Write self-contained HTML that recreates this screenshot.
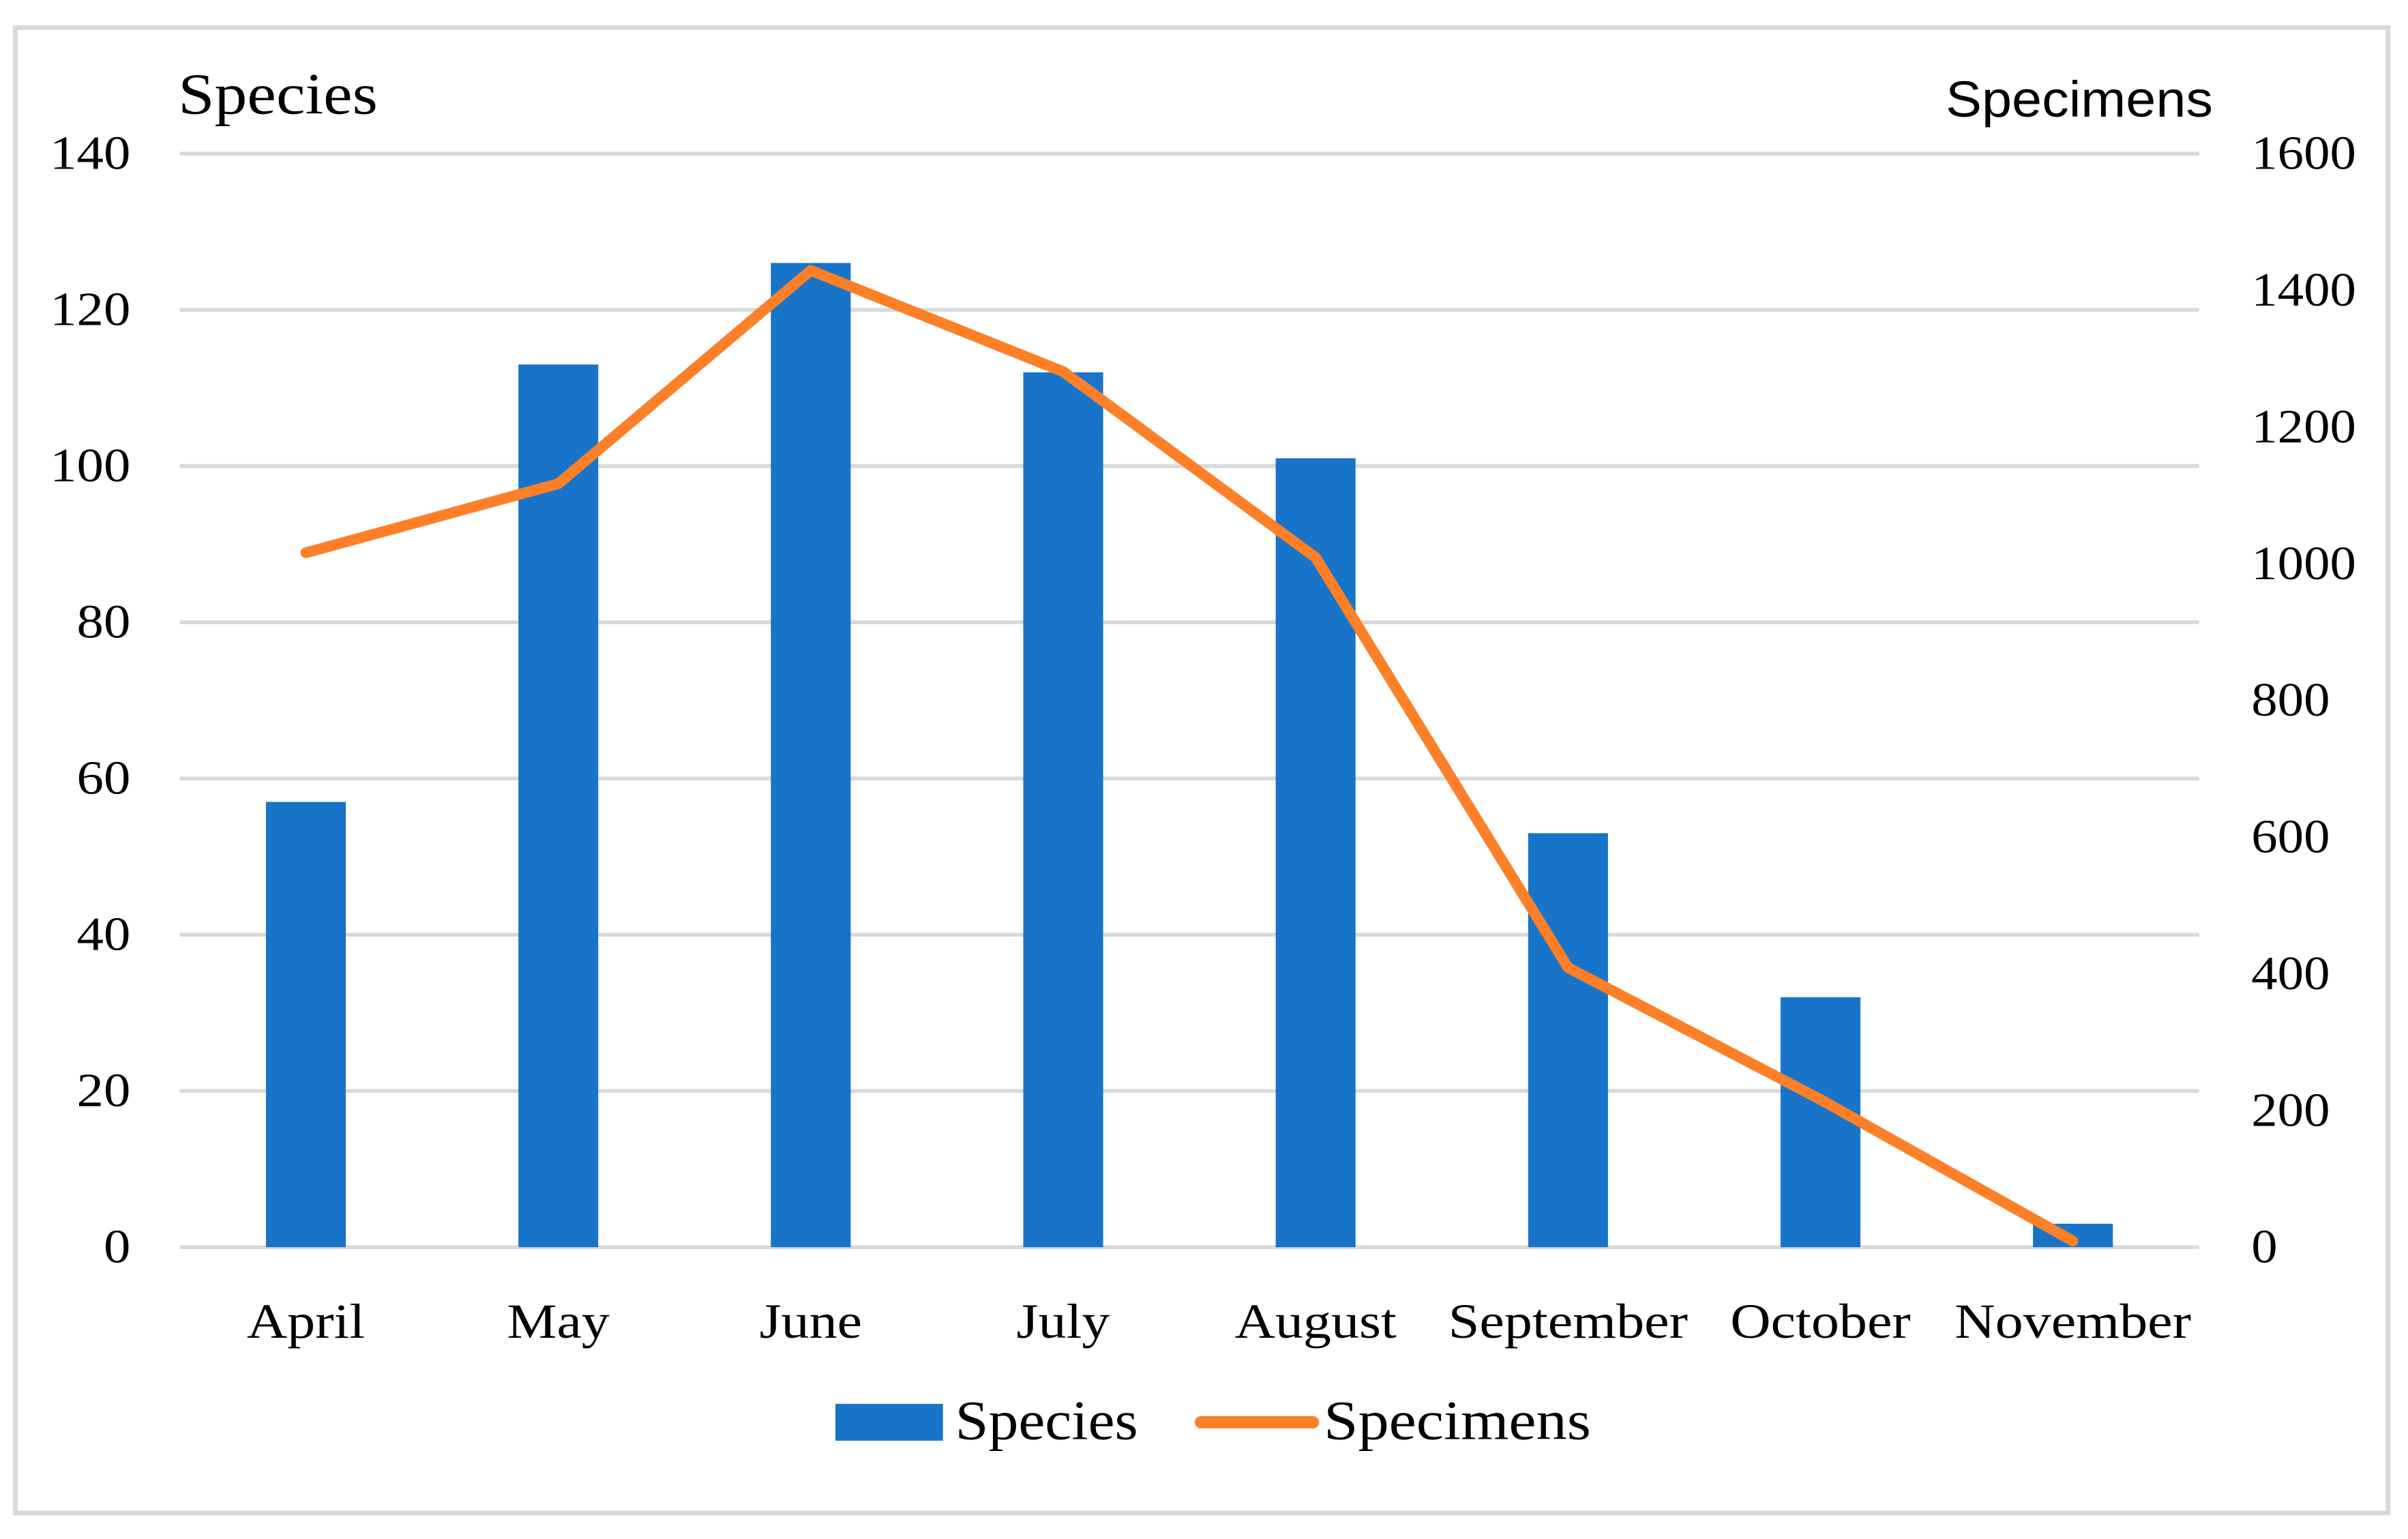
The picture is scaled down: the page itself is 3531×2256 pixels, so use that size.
<!DOCTYPE html>
<html><head><meta charset="utf-8"><style>
html,body{margin:0;padding:0;background:#fff;}
svg{display:block;}
.serif{font-family:"Liberation Serif",serif;fill:#000;}
.sans{font-family:"Liberation Sans",sans-serif;fill:#000;}
</style></head><body>
<svg id="chart" width="3531" height="2256" viewBox="0 0 1568 1002" preserveAspectRatio="none" xmlns="http://www.w3.org/2000/svg">
<rect x="10" y="18" width="1545" height="967" fill="#fff" stroke="#d9d9d9" stroke-width="3"/>
<g id="grid"></g>
<g id="bars"></g>
<g id="line"></g>
<g id="axes"></g>
<text class="serif stretch" x="116" y="74" font-size="38" textLength="130" lengthAdjust="spacingAndGlyphs">Species</text>
<text class="sans" x="1441" y="76" font-size="33" text-anchor="end" textLength="174" lengthAdjust="spacingAndGlyphs">Specimens</text>
<g>
<rect x="544" y="914" width="70" height="24" fill="#1874c9"/>
<text class="serif" x="622" y="937" font-size="36" textLength="119" lengthAdjust="spacingAndGlyphs">Species</text>
<line x1="782" y1="926" x2="855" y2="926" stroke="#fd7f28" stroke-width="8" stroke-linecap="round"/>
<text class="serif" x="862" y="937" font-size="36" textLength="174" lengthAdjust="spacingAndGlyphs">Specimens</text>
</g>
</svg>
<script>
const categories = ["April","May","June","July","August","September","October","November"];
const species = [57,113,126,112,101,53,32,3];
const specimens = [1016,1117,1429,1281,1009,409,216,9];
const leftTicks = [0,20,40,60,80,100,120,140];
const rightTicks = [0,200,400,600,800,1000,1200,1400,1600];

const NS = "http://www.w3.org/2000/svg";
const plotL = 117, plotR = 1432, plotT = 100, plotB = 812;
const slot = (plotR - plotL) / categories.length;
const xC = i => plotL + slot * (i + 0.5);
const yL = v => plotB - (v / 140) * (plotB - plotT);
const yR = v => plotB - (v / 1600) * (plotB - plotT);
function mk(tag, attrs, parent){
  const e = document.createElementNS(NS, tag);
  for (const k in attrs) e.setAttribute(k, attrs[k]);
  parent.appendChild(e); return e;
}
function stretch(el, f){
  const w = el.getComputedTextLength();
  if (w > 0) { el.setAttribute('textLength', w * f); el.setAttribute('lengthAdjust', 'spacingAndGlyphs'); }
}
const grid = document.getElementById('grid'), bars = document.getElementById('bars'),
      line = document.getElementById('line'), axes = document.getElementById('axes');
leftTicks.forEach(t => {
  const g = mk('line', {x1: plotL, x2: plotR, y1: yL(t), y2: yL(t), stroke: '#d9d9d9', 'stroke-width': 2.5}, grid);
  
  
  const tx = mk('text', {x: 85, y: yL(t) + 10, 'font-size': 31, 'text-anchor': 'end', class: 'serif'}, axes);
  tx.textContent = t;
  
  
  stretch(tx, 1.13);
});
rightTicks.forEach(t => {
  const tx = mk('text', {x: 1466, y: yR(t) + 10, 'font-size': 31, class: 'serif'}, axes);
  tx.textContent = t;
  
  
  stretch(tx, 1.1);
});
const bw = 52;
species.forEach((v, i) => {
  const r = mk('rect', {x: xC(i) - bw / 2, y: yL(v), width: bw, height: plotB - yL(v), fill: '#1874c9'}, bars);
  
  
});
categories.forEach((c, i) => {
  const tx = mk('text', {x: xC(i), y: 871, 'font-size': 32, 'text-anchor': 'middle', class: 'serif'}, axes);
  tx.textContent = c;
  
  
  stretch(tx, 1.14);
});
const pts = specimens.map((v, i) => xC(i) + ',' + yR(v)).join(' ');
const pl = mk('polyline', {points: pts, fill: 'none', stroke: '#fd7f28', 'stroke-width': 7, 'stroke-linejoin': 'round', 'stroke-linecap': 'round'}, line);


</script>
</body></html>
